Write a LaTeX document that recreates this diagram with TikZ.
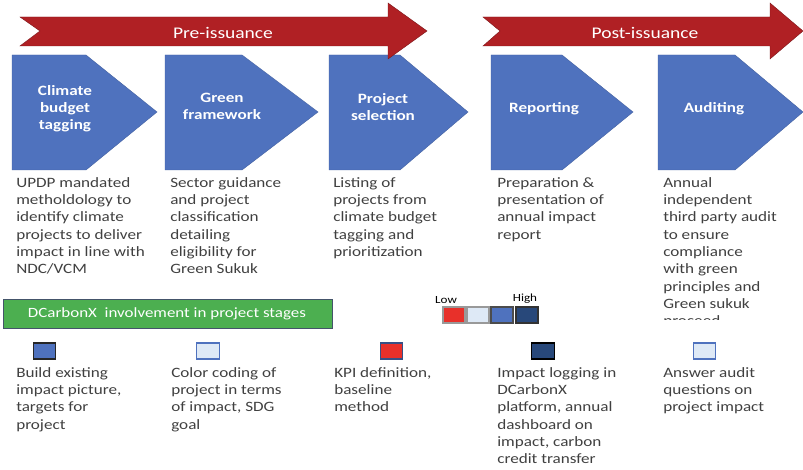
\documentclass[tikz,border=0pt]{standalone}
\usepackage{fontspec}
\setmainfont[FakeStretch=1.2]{Carlito}
\usepackage{tikz}

\definecolor{arrowred}{RGB}{176,32,36}
\definecolor{stageblue}{RGB}{79,114,190}
\definecolor{textgray}{RGB}{64,64,64}
\definecolor{barfill}{RGB}{76,175,80}
\definecolor{barline}{RGB}{68,84,106}
\definecolor{lowred}{RGB}{232,48,42}
\definecolor{paleblue}{RGB}{222,233,246}
\definecolor{darkblue}{RGB}{40,72,122}

\begin{document}
\begin{tikzpicture}[x = 0.75pt, y = -0.75pt,
        phase/.style = {fill = arrowred, draw = arrowred!70!black, line width = 0.3pt},
        phasetext/.style = {text = white, font = \fontsize{12.2}{14}\selectfont},
        stage/.style = {fill = stageblue, draw = stageblue!85!black, line width = 0.3pt},
        stagetext/.style = {text = white, align = center, inner sep = 0pt,
            font = \fontsize{10.7}{12.8}\selectfont\bfseries},
        desc/.style = {anchor = north west, inner sep = 0pt, align = left, text = textgray,
            font = \fontsize{10.7}{13}\selectfont},
        key/.style = {minimum width = 17pt, minimum height = 12pt, inner sep = 0pt, line width = 0.8pt},
        levelbox/.style = {minimum width = 16.5pt, minimum height = 12pt, inner sep = 0pt,
            line width = 0.8pt, draw = gray!80}]
        \useasboundingbox (0,0) rectangle (803,470);

        % stages
        \draw[stage] (12,55) -- (86,55) -- (157,112) -- (86,170) -- (12,170) -- cycle;
        \node[stagetext] (budget) at (65,109) {Climate\\budget\\tagging};

        \draw[stage] (165,55) -- (242,55) -- (318,112) -- (242,170) -- (165,170) -- cycle;
        \node[stagetext] (framework) at (222,106) {Green\\framework};

        \draw[stage] (329,55) -- (400,55) -- (468,112) -- (400,170) -- (329,170) -- cycle;
        \node[stagetext] (selection) at (383,107) {Project\\selection};

        \draw[stage] (491,55) -- (562,55) -- (633,112) -- (562,170) -- (491,170) -- cycle;
        \node[stagetext] (reporting) at (544,109) {Reporting};

        \draw[stage] (658,55) -- (735,55) -- (803,112) -- (735,170) -- (658,170) -- cycle;
        \node[stagetext] (auditing) at (714,109) {Auditing};

        % phase arrows on top
        \draw[phase] (20,17) -- (388,17) -- (388,3) -- (427,31) -- (388,59) -- (388,46)
            -- (20,46) -- (40,31) -- cycle;
        \node[phasetext] (pre) at (223,33) {Pre-issuance};

        \draw[phase] (483,17) -- (770,17) -- (770,3) -- (803,31) -- (770,59) -- (770,46)
            -- (483,46) -- (500,31) -- cycle;
        \node[phasetext] (post) at (645,33) {Post-issuance};

        % what happens in each stage
        \node[desc] (what1) at (16,177) {UPDP mandated\\metholdology to\\identify climate\\projects to deliver\\impact in line with\\NDC/VCM};
        \node[desc] (what2) at (170,177) {Sector guidance\\and project\\classification\\detailing\\eligibility for\\Green Sukuk};
        \node[desc] (what3) at (333,177) {Listing of\\projects from\\climate budget\\tagging and\\prioritization};
        \node[desc] (what4) at (497,177) {Preparation \&\\presentation of\\annual impact\\report};
        \begin{scope}
            \clip (650,170) rectangle (803,319.5);
            \node[desc] (what5) at (663,177) {Annual\\independent\\third party audit\\to ensure\\compliance\\with green\\principles and\\Green sukuk\\proceed};
        \end{scope}

        % DCarbonX bar and impact scale
        \draw[fill = barfill, draw = barline, line width = 0.6pt] (3,299) rectangle (332,328);
        \node[text = white, font = \fontsize{10.6}{12}\selectfont] (involve) at (167,314) {DCarbonX\ \ involvement in project stages};

        \node[font = \fontsize{8.2}{10}\selectfont] (low) at (446,300) {Low};
        \node[font = \fontsize{8.2}{10}\selectfont] (high) at (525,299) {High};
        \node[levelbox, fill = lowred] (lvl1) at (454,315) {};
        \node[levelbox, fill = paleblue] (lvl2) at (478,315) {};
        \node[levelbox, fill = stageblue, draw = gray!60!black] (lvl3) at (502,315) {};
        \node[levelbox, fill = darkblue, draw = black!80] (lvl4) at (527,315) {};

        % DCarbonX role per stage
        \node[key, fill = stageblue, draw = black!85] (key1) at (44.5,351) {};
        \node[key, fill = paleblue, draw = stageblue] (key2) at (208,351) {};
        \node[key, fill = lowred, draw = stageblue!70!black] (key3) at (391.5,351) {};
        \node[key, fill = darkblue, draw = black] (key4) at (543,351) {};
        \node[key, fill = paleblue, draw = stageblue] (key5) at (704.5,351) {};

        \node[desc] (role1) at (16,367) {Build existing\\impact picture,\\targets for\\project};
        \node[desc] (role2) at (171,367) {Color coding of\\project in terms\\of impact, SDG\\goal};
        \node[desc] (role3) at (334,367) {KPI definition,\\baseline\\method};
        \node[desc] (role4) at (497,367) {Impact logging in\\DCarbonX\\platform, annual\\dashboard on\\impact, carbon\\credit transfer};
        \node[desc] (role5) at (663,367) {Answer audit\\questions on\\project impact};
\end{tikzpicture}
\end{document}
